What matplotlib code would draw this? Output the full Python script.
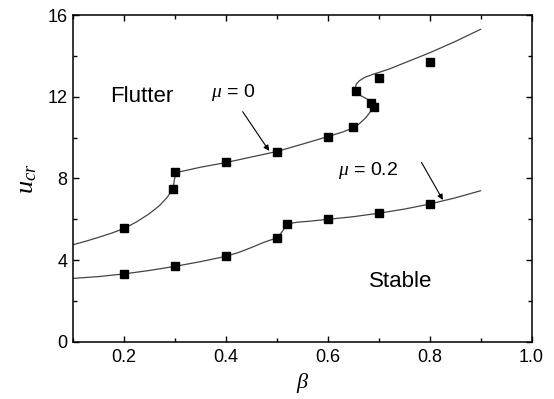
import matplotlib.pyplot as plt

# fitted curves
mu0_curve_x = [0.10, 0.125, 0.15, 0.175, 0.20, 0.225, 0.25, 0.27, 0.285, 0.293, 0.297, 0.299,
               0.302, 0.31, 0.35, 0.40, 0.45, 0.50, 0.55, 0.60, 0.63, 0.65, 0.662, 0.675, 0.684,
               0.688, 0.686, 0.678, 0.665, 0.657, 0.654, 0.656, 0.662, 0.672, 0.689, 0.72, 0.76,
               0.80, 0.85, 0.90]
mu0_curve_y = [4.76, 4.93, 5.12, 5.32, 5.55, 5.88, 6.28, 6.68, 7.08, 7.38, 7.60, 7.95,
               8.25, 8.33, 8.55, 8.78, 9.05, 9.32, 9.68, 10.05, 10.28, 10.48, 10.68, 10.98, 11.28,
               11.50, 11.70, 11.88, 12.05, 12.22, 12.42, 12.62, 12.78, 12.94, 13.10, 13.35, 13.75,
               14.15, 14.70, 15.30]

mu02_curve_x = [0.10, 0.15, 0.20, 0.25, 0.30, 0.35, 0.40, 0.425, 0.45, 0.475, 0.495, 0.505,
                0.512, 0.518, 0.525, 0.54, 0.56, 0.60, 0.65, 0.70, 0.75, 0.80, 0.85, 0.90]
mu02_curve_y = [3.11, 3.20, 3.33, 3.50, 3.70, 3.93, 4.19, 4.38, 4.62, 4.88, 5.05, 5.22,
                5.45, 5.68, 5.80, 5.86, 5.90, 6.00, 6.13, 6.30, 6.50, 6.75, 7.05, 7.40]

# computed points (markers)
mu0_x = [0.2, 0.297, 0.3, 0.4, 0.5, 0.6, 0.65, 0.655, 0.684, 0.69, 0.7, 0.8]
mu0_y = [5.6, 7.5, 8.3, 8.8, 9.32, 10.05, 10.5, 12.3, 11.7, 11.5, 12.9, 13.7]

mu02_x = [0.2, 0.3, 0.4, 0.5, 0.52, 0.6, 0.7, 0.8]
mu02_y = [3.35, 3.7, 4.2, 5.1, 5.77, 6.0, 6.3, 6.75]

plt.rcParams["font.family"] = "Liberation Sans"
plt.rcParams["mathtext.fontset"] = "custom"
plt.rcParams["mathtext.it"] = "Liberation Serif:italic"
plt.rcParams["mathtext.rm"] = "Liberation Sans"

fig = plt.figure(figsize=(5.54, 3.99), dpi=100)
ax = fig.add_axes([0.1318, 0.1429, 0.8276, 0.8195])

line_color = "#444444"
ax.plot(mu0_curve_x, mu0_curve_y, color=line_color, lw=0.9)
ax.plot(mu02_curve_x, mu02_curve_y, color=line_color, lw=0.9)
ax.plot(mu0_x, mu0_y, "s", color="black", ms=5.5, ls="none")
ax.plot(mu02_x, mu02_y, "s", color="black", ms=5.5, ls="none")

ax.set_xlim(0.1, 1.0)
ax.set_ylim(0, 16)
ax.set_xticks([0.2, 0.4, 0.6, 0.8, 1.0])
ax.set_xticks([0.1, 0.3, 0.5, 0.7, 0.9], minor=True)
ax.set_yticks([0, 4, 8, 12, 16])
ax.set_yticks([2, 6, 10, 14], minor=True)
ax.set_xticklabels(["0.2", "0.4", "0.6", "0.8", "1.0"])
ax.tick_params(which="both", direction="in", top=True, right=True, labelsize=13, width=1)
ax.tick_params(which="major", length=4.5, pad=5)
ax.tick_params(which="minor", length=3)
ax.tick_params(axis="y", pad=4)
for s in ax.spines.values():
    s.set_linewidth(1.1)

ax.set_xlabel(r"$\beta$", fontsize=16, labelpad=4)
ax.set_ylabel(r"$u_{cr}$", fontsize=19, labelpad=6)

ax.text(0.1725, 12.0, "Flutter", fontsize=16, ha="left", va="center")
ax.text(0.743, 2.95, "Stable", fontsize=16, ha="center", va="center")
ax.text(0.37, 12.2, r"$\mu$ = 0", fontsize=14, ha="left", va="center")
ax.text(0.62, 8.41, r"$\mu$ = 0.2", fontsize=14, ha="left", va="center")

arrow = dict(arrowstyle="-|>", color="black", lw=0.8, mutation_scale=8, shrinkA=0, shrinkB=0)
ax.annotate("", xy=(0.485, 9.35), xytext=(0.433, 11.27), arrowprops=arrow)
ax.annotate("", xy=(0.826, 6.95), xytext=(0.784, 8.79), arrowprops=arrow)

fig.savefig("out.png", dpi=100)
